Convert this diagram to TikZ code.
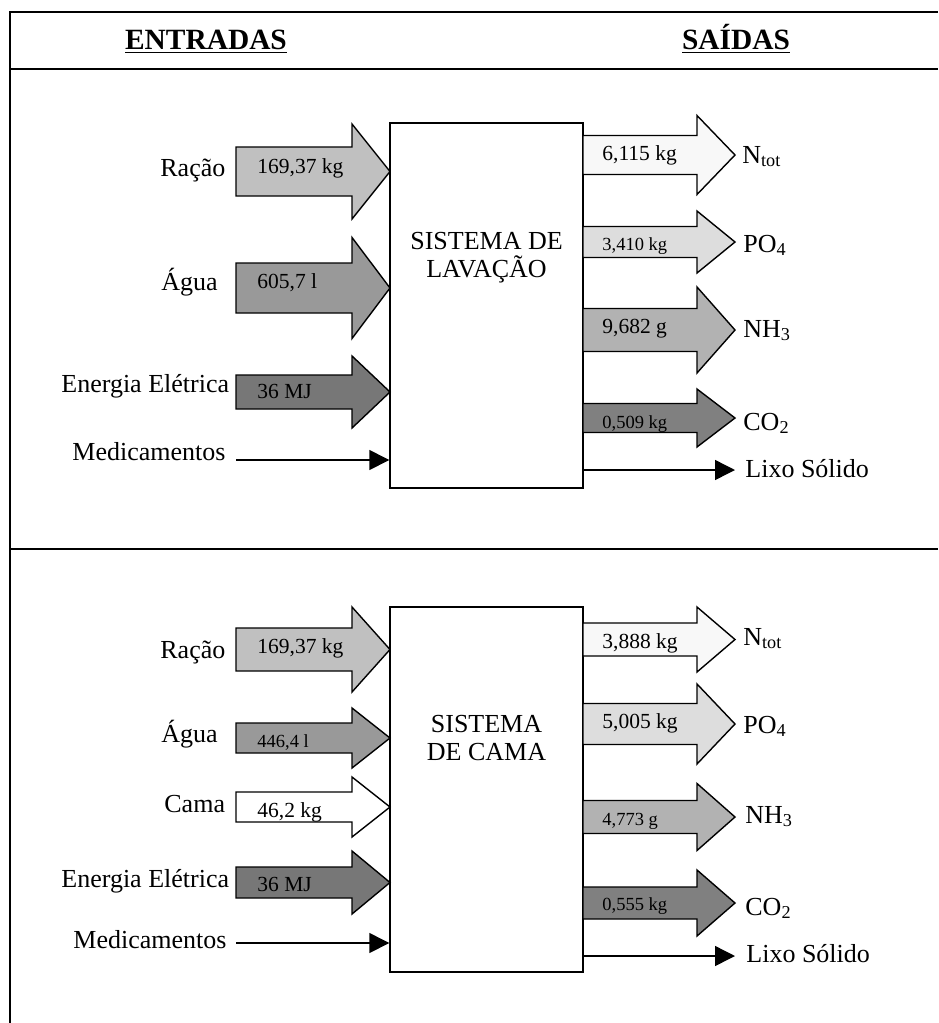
\documentclass[tikz,border=0pt]{standalone}
\usepackage{fontspec}
\setmainfont{Liberation Serif}
\usetikzlibrary{arrows.meta, positioning}

\definecolor{cinzaRacao}{HTML}{C0C0C0}
\definecolor{cinzaAgua}{HTML}{999999}
\definecolor{cinzaEnergia}{HTML}{777777}
\definecolor{cinzaNtot}{HTML}{F8F8F8}
\definecolor{cinzaPO}{HTML}{DDDDDD}
\definecolor{cinzaNH}{HTML}{B2B2B2}
\definecolor{cinzaCO}{HTML}{808080}

% fill, x start, x head, x tip, y centre, body half, head half
\newcommand{\fluxo}[7]{%
  \draw[bloco, fill=#1] (#2,{#5-#6}) -- (#3,{#5-#6}) -- (#3,{#5-#7}) -- (#4,#5)
    -- (#3,{#5+#7}) -- (#3,{#5+#6}) -- (#2,{#5+#6}) -- cycle;}

\tikzset{
  moldura/.style={line width=0.9pt},
  bloco/.style={line width=0.7pt, line join=miter},
  sistema/.style={draw, line width=0.7pt, minimum width=96.5pt},
  rotulo/.style={inner sep=0pt, font=\fontsize{13}{14}\selectfont},
  titulo/.style={inner sep=0pt, font=\fontsize{14.7}{16}\selectfont\bfseries},
  valor/.style={inner sep=0pt, font=\fontsize{10.75}{12}\selectfont},
  valorp/.style={inner sep=0pt, font=\fontsize{9.25}{11}\selectfont},
  fio/.style={line width=0.7pt, -{Triangle[length=10pt,width=10pt]}}
}

\begin{document}
\begin{tikzpicture}[x=0.5pt, y=-0.5pt]
  \useasboundingbox (0,0) rectangle (938,1023);

  \draw[moldura] (10,1023) -- (10,12) -- (938,12);
  \draw[moldura] (10,69) -- (938,69);
  \draw[moldura] (10,549) -- (938,549);

  \node[titulo, anchor=base] (entradas) at (206,49) {\underline{ENTRADAS}};
  \node[titulo, anchor=base] (saidas) at (736,49) {\underline{SAÍDAS}};

  % lavacao
  \node[sistema, minimum height=182.5pt] (lav) at (486.5,305.5) {};
  \node[rotulo, align=center] (lavtxt) at (486.5,258) {SISTEMA DE\\LAVAÇÃO};

  \fluxo{cinzaRacao}{236}{352}{390}{171.5}{24.5}{47.5}
  \fluxo{cinzaAgua}{236}{352}{390}{288}{25}{50.5}
  \fluxo{cinzaEnergia}{236}{352}{390}{392}{17}{36}
  \node[rotulo, anchor=base west] (lavR) at (160,176) {Ração};
  \node[rotulo, anchor=base west] (lavA) at (161,290) {Água};
  \node[rotulo, anchor=base west] (lavE) at (61,392) {Energia Elétrica};
  \node[rotulo, anchor=base west] (lavM) at (72,460) {Medicamentos};
  \node[valor, anchor=base west] (lavRv) at (257,173) {169,37 kg};
  \node[valor, anchor=base west] (lavAv) at (257,288) {605,7 l};
  \node[valor, anchor=base west] (lavEv) at (257,398) {36 MJ};
  \coordinate (lavMa) at (236,460);
  \draw[fio] (lavMa) -- (lavMa -| lav.west);

  \fluxo{cinzaNtot}{583}{697}{735}{155}{19.5}{39.5}
  \fluxo{cinzaPO}{583}{697}{735}{242}{15.5}{31}
  \fluxo{cinzaNH}{583}{697}{735}{330}{21.5}{43}
  \fluxo{cinzaCO}{583}{697}{735}{418}{14.5}{29}
  \node[valor, anchor=base west] (lavNv) at (602,160) {6,115 kg};
  \node[valorp, anchor=base west] (lavPv) at (602,250) {3,410 kg};
  \node[valor, anchor=base west] (lavHv) at (602,333) {9,682 g};
  \node[valorp, anchor=base west] (lavCv) at (602,428) {0,509 kg};
  \node[rotulo, anchor=base west] (lavN) at (742,163) {N\textsubscript{tot}};
  \node[rotulo, anchor=base west] (lavP) at (743,252) {PO\textsubscript{4}};
  \node[rotulo, anchor=base west] (lavH) at (743,337) {NH\textsubscript{3}};
  \node[rotulo, anchor=base west] (lavC) at (743,430) {CO\textsubscript{2}};
  \node[rotulo, anchor=base west] (lavL) at (745,477) {Lixo Sólido};
  \coordinate (lavLb) at (735,470);
  \draw[fio] (lavLb -| lav.east) -- (lavLb);

  % cama
  \node[sistema, minimum height=182.5pt] (cam) at (486.5,789.5) {};
  \node[rotulo, align=center] (camtxt) at (486.5,738) {SISTEMA\\DE CAMA};

  \fluxo{cinzaRacao}{236}{352}{390}{649.5}{21.5}{42.5}
  \fluxo{cinzaAgua}{236}{352}{390}{738}{15}{30}
  \fluxo{white}{236}{352}{390}{807}{15}{30}
  \fluxo{cinzaEnergia}{236}{352}{390}{882.5}{15.5}{31.5}
  \node[rotulo, anchor=base west] (camR) at (160,658) {Ração};
  \node[rotulo, anchor=base west] (camA) at (161,742) {Água};
  \node[rotulo, anchor=base west] (camK) at (164,812) {Cama};
  \node[rotulo, anchor=base west] (camE) at (61,887) {Energia Elétrica};
  \node[rotulo, anchor=base west] (camM) at (73,948) {Medicamentos};
  \node[valor, anchor=base west] (camRv) at (257,653) {169,37 kg};
  \node[valorp, anchor=base west] (camAv) at (257,747) {446,4 l};
  \node[valor, anchor=base west] (camKv) at (257,817) {46,2 kg};
  \node[valor, anchor=base west] (camEv) at (257,891) {36 MJ};
  \coordinate (camMa) at (236,943);
  \draw[fio] (camMa) -- (camMa -| cam.west);

  \fluxo{cinzaNtot}{583}{697}{735}{639.5}{16.5}{32.5}
  \fluxo{cinzaPO}{583}{697}{735}{724}{20.5}{40}
  \fluxo{cinzaNH}{583}{697}{735}{817}{16.5}{33.5}
  \fluxo{cinzaCO}{583}{697}{735}{903}{16}{33}
  \node[valor, anchor=base west] (camNv) at (602,648) {3,888 kg};
  \node[valor, anchor=base west] (camPv) at (602,728) {5,005 kg};
  \node[valorp, anchor=base west] (camHv) at (602,825) {4,773 g};
  \node[valorp, anchor=base west] (camCv) at (602,910) {0,555 kg};
  \node[rotulo, anchor=base west] (camN) at (743,645) {N\textsubscript{tot}};
  \node[rotulo, anchor=base west] (camP) at (743,733) {PO\textsubscript{4}};
  \node[rotulo, anchor=base west] (camH) at (745,823) {NH\textsubscript{3}};
  \node[rotulo, anchor=base west] (camC) at (745,915) {CO\textsubscript{2}};
  \node[rotulo, anchor=base west] (camL) at (746,962) {Lixo Sólido};
  \coordinate (camLb) at (735,956);
  \draw[fio] (camLb -| cam.east) -- (camLb);
\end{tikzpicture}
\end{document}
